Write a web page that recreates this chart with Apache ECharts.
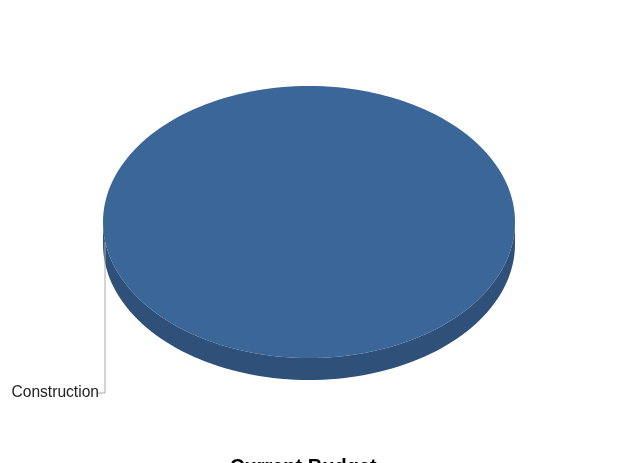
<!DOCTYPE html>
<html><head><meta charset="utf-8">
<script src="https://cdn.jsdelivr.net/npm/echarts@6/dist/echarts.min.js"></script>
<style>html,body{margin:0;padding:0;background:#fff}#c{width:624px;height:463px}</style>
</head><body><div id="c"></div>
<script>
var categories = ['Construction'];
var values = [100];
var chartTitle = 'Current Budget';

var chart = echarts.init(document.getElementById('c'), null, {renderer: 'canvas'});
var total = values.reduce(function (a, b) { return a + b; }, 0);
var topColors = ['#3a6698'];
var sideColors = ['#2e5079'];

function renderItem(params, api) {
  var i = params.dataIndex;
  var cx = 309, cy = 222, rx = 206, ry = 136, depth = 22;
  var before = 0;
  for (var k = 0; k < i; k++) before += values[k];
  var a0 = Math.PI / 2 + (before / total) * Math.PI * 2;
  var a1 = a0 + (api.value(0) / total) * Math.PI * 2;
  var n = 180, top = [], side = [];
  var full = (a1 - a0) >= Math.PI * 2 - 1e-6;
  if (!full) top.push([cx, cy]);
  for (var s = 0; s <= n; s++) {
    var a = a0 + (a1 - a0) * s / n;
    top.push([cx + rx * Math.cos(a), cy + ry * Math.sin(a)]);
  }
  var upper = [], lower = [];
  for (var s2 = 0; s2 <= n; s2++) {
    var b = a0 + (a1 - a0) * s2 / n;
    var nb = ((b % (2 * Math.PI)) + 2 * Math.PI) % (2 * Math.PI);
    if (nb <= Math.PI) {
      upper.push([cx + rx * Math.cos(b), cy + ry * Math.sin(b)]);
    }
  }
  upper.sort(function (p, q) { return q[0] - p[0]; });
  for (var u = upper.length - 1; u >= 0; u--) lower.push([upper[u][0], upper[u][1] + depth]);
  side = upper.concat(lower);
  var lx = cx - rx + 2, ly0 = cy + 20, ly1 = 393;
  return {
    type: 'group',
    children: [
      {type: 'polygon', shape: {points: side}, style: {fill: sideColors[i % sideColors.length]}},
      {type: 'polygon', shape: {points: top}, style: {fill: topColors[i % topColors.length]}},
      {type: 'polyline', shape: {points: [[lx, ly0], [lx, ly1], [lx - 7, ly1]]}, style: {stroke: '#aaaaaa', lineWidth: 1, fill: null}},
      {type: 'text', x: lx - 6, y: ly1, style: {text: categories[i], fill: '#222', font: '15.6px "Liberation Sans", Arial, sans-serif', align: 'right', verticalAlign: 'middle'}}
    ]
  };
}

chart.setOption({
  animation: false,
  title: {text: chartTitle, left: 225, top: 452, textStyle: {fontSize: 20, fontWeight: 'bold', color: '#000', fontFamily: '"Liberation Sans", Arial, sans-serif'}},
  series: [{type: 'custom', coordinateSystem: 'none', renderItem: renderItem, data: values.map(function (v) { return [v]; })}]
});
</script></body></html>
